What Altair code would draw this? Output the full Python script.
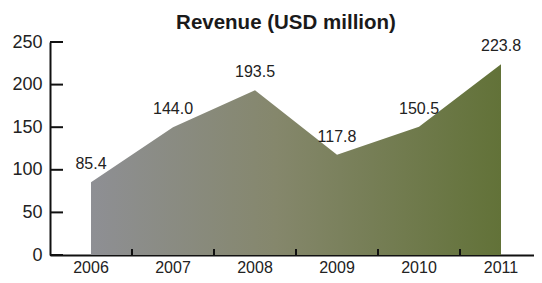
import altair as alt
import pandas as pd

years = ["2006", "2007", "2008", "2009", "2010", "2011"]
revenue = [85.4, 150.0, 193.5, 117.8, 150.5, 223.8]
labels = ["85.4", "144.0", "193.5", "117.8", "150.5", "223.8"]
y_ticks = [0, 50, 100, 150, 200, 250]
x_tick_years = ["2007", "2008", "2009", "2010", "2011"]

df = pd.DataFrame({"year": years, "revenue": revenue, "label": labels})
df_yt = pd.DataFrame({"v": y_ticks})
df_xt = pd.DataFrame({"year": x_tick_years})

FONT = "Liberation Sans"
H = 213
W = 484
XRANGE = 492

xscale = alt.Scale(type="band", domain=years, paddingInner=0, paddingOuter=0,
                   range=[0, XRANGE])
yscale = alt.Scale(domain=[0, 250], nice=False)

x_enc = alt.X(
    "year:N", scale=xscale, sort=years,
    axis=alt.Axis(title=None, labelAngle=0, labelFont=FONT, labelFontSize=16,
                  labelColor="#222", labelPadding=4, ticks=False,
                  domainColor="#111", domainWidth=2),
)
y_enc = alt.Y(
    "revenue:Q", scale=yscale,
    axis=alt.Axis(title=None, values=y_ticks, labelFont=FONT, labelFontSize=18,
                  labelColor="#222", labelPadding=8, ticks=False, grid=False,
                  domainColor="#111", domainWidth=2),
)

area = alt.Chart(df).mark_area(
    color=alt.Gradient(
        gradient="linear",
        stops=[
            alt.GradientStop(color="#8e8f94", offset=0),
            alt.GradientStop(color="#85876c", offset=0.45),
            alt.GradientStop(color="#627238", offset=1),
        ],
        x1=0, x2=1, y1=0, y2=0,
    )
).encode(x=x_enc, y=y_enc)

text = alt.Chart(df).mark_text(
    font=FONT, fontSize=16, color="#222", baseline="bottom", dy=-10
).encode(
    x=alt.X("year:N", scale=xscale, sort=years),
    y=alt.Y("revenue:Q", scale=yscale),
    text="label:N",
)

yticks = alt.Chart(df_yt).mark_rule(color="#111", strokeWidth=2).encode(
    y=alt.Y("v:Q", scale=yscale),
    x=alt.value(0),
    x2=alt.value(13),
)

xticks = alt.Chart(df_xt).mark_rule(color="#111", strokeWidth=2).encode(
    x=alt.X("year:N", scale=xscale, sort=years, bandPosition=0),
    y=alt.value(H),
    y2=alt.value(H - 6),
)

chart = alt.layer(area, yticks, xticks, text).properties(
    width=W,
    height=H,
    title=alt.TitleParams(
        "Revenue (USD million)", font=FONT, fontSize=20.5, fontWeight="bold",
        color="#1a1a1a", anchor="middle", dx=-6, offset=0,
    ),
    autosize=alt.AutoSizeParams(type="none"),
    padding={"left": 42, "top": 34, "right": 0, "bottom": 20},
).configure_view(stroke=None)

chart.save("out.html", embed_options={"renderer": "svg", "actions": False})
